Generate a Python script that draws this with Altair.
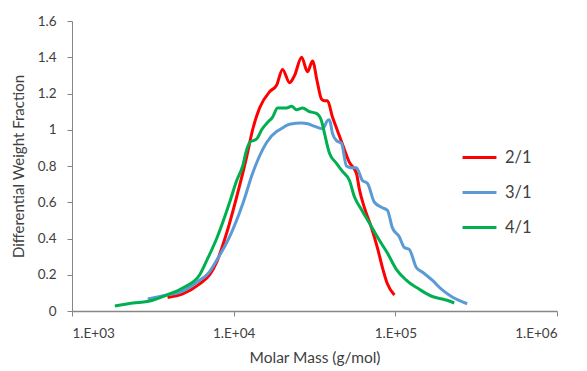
import altair as alt
import pandas as pd

# 2/1 series
m_21 = [3900, 4840, 6170, 7110, 7850, 9050, 10440, 12030, 13100, 14460, 16680, 18420,
        20060, 22170, 23820, 26300, 28640, 30750, 32800, 34910, 36460, 38050, 40840,
        43250, 47100, 52020, 57460, 59950, 64370, 71120, 77420, 83180, 89290, 98630]
w_21 = [0.075, 0.095, 0.15, 0.2, 0.27, 0.43, 0.63, 0.85, 1.0, 1.12, 1.21, 1.245,
        1.333, 1.26, 1.30, 1.40, 1.32, 1.38, 1.27, 1.17, 1.16, 1.16, 1.07,
        1.01, 0.92, 0.82, 0.76, 0.67, 0.57, 0.46, 0.35, 0.24, 0.15, 0.088]

# 3/1 series
m_31 = [2944, 3857, 4842, 6166, 7000, 7852, 9446, 11370, 13100, 15100, 15990, 18420,
        19230, 22170, 26300, 28240, 31500, 35500, 38050, 39140, 40840, 43250, 46420,
        49860, 53500, 57460, 62530, 67150, 74200, 83180, 89290, 95810, 105800, 113700,
        121900, 134800, 146800, 169100, 195100, 224800, 278200]
w_31 = [0.066, 0.088, 0.11, 0.17, 0.21, 0.28, 0.41, 0.59, 0.76, 0.89, 0.93, 0.99,
        1.0, 1.03, 1.037, 1.035, 1.02, 1.005, 1.05, 1.055, 0.98, 0.94, 0.925,
        0.80, 0.79, 0.79, 0.72, 0.705, 0.60, 0.57, 0.556, 0.46, 0.41, 0.35,
        0.34, 0.24, 0.215, 0.17, 0.116, 0.077, 0.04]

# 4/1 series
m_41 = [1841, 2381, 3030, 3857, 4842, 6166, 6910, 7852, 9446, 10440, 11370, 12030, 12560,
        13900, 14900, 15990, 17410, 18700, 21250, 22800, 24490, 26670, 29440, 32530,
        34910, 36460, 39140, 43250, 47100, 52020, 55850, 61680, 69120, 79680, 89290,
        101400, 116900, 140600, 169100, 195100, 215500, 231300]
w_41 = [0.028, 0.044, 0.055, 0.088, 0.127, 0.2, 0.29, 0.4, 0.6, 0.72, 0.80, 0.89, 0.93,
        0.95, 1.0, 1.035, 1.07, 1.12, 1.12, 1.13, 1.11, 1.12, 1.10, 1.09,
        1.05, 0.98, 0.87, 0.815, 0.77, 0.72, 0.63, 0.56, 0.485, 0.39, 0.32,
        0.23, 0.17, 0.12, 0.08, 0.066, 0.055, 0.044]

series_names = ["2/1", "3/1", "4/1"]
series_colors = ["#FF0000", "#5B9BD5", "#00B050"]
x_ticks = [1000, 10000, 100000, 1000000]
y_ticks = [0, 0.2, 0.4, 0.6, 0.8, 1.0, 1.2, 1.4, 1.6]

rows = []
for name, ms, ws in zip(series_names, [m_21, m_31, m_41], [w_21, w_31, w_41]):
    for i, (m, w) in enumerate(zip(ms, ws)):
        rows.append({"series": name, "mass": m, "weight": w, "order": i})
df = pd.DataFrame(rows)

FONT = "Lato"
TXT = "#404040"

chart = alt.Chart(df).mark_line(strokeWidth=3, interpolate="monotone").encode(
    x=alt.X("mass:Q",
            scale=alt.Scale(type="log", domain=[1000, 1000000], nice=False),
            axis=alt.Axis(title="Molar Mass (g/mol)", values=x_ticks,
                          labelExpr="'1.E+0' + format(log(datum.value)/log(10), '.0f')",
                          grid=False, domainColor="#868686", domainWidth=1.5,
                          tickColor="#868686", tickSize=5, labelPadding=10,
                          labelFontSize=13.5, labelFont=FONT, labelColor=TXT,
                          titleFont=FONT, titleFontSize=15.5, titleFontWeight="normal",
                          titleColor=TXT, titlePadding=11)),
    y=alt.Y("weight:Q",
            scale=alt.Scale(domain=[0, 1.6], nice=False),
            axis=alt.Axis(title="Differential Weight Fraction", values=y_ticks,
                          format=".1~f", grid=False, domainColor="#868686",
                          tickColor="#868686", tickSize=5, labelPadding=11,
                          labelFontSize=13.5, labelFont=FONT, labelColor=TXT,
                          titleFont=FONT, titleFontSize=15, titleFontWeight="normal",
                          titleColor=TXT, titlePadding=11)),
    color=alt.Color("series:N",
                    scale=alt.Scale(domain=series_names, range=series_colors),
                    legend=alt.Legend(title=None, orient="none", legendX=389, legendY=118,
                                      symbolType="stroke", symbolSize=1150,
                                      symbolStrokeWidth=3, rowPadding=8,
                                      labelFont=FONT, labelFontSize=16.5, labelColor=TXT,
                                      labelOffset=7)),
    order="order:Q",
).properties(
    width=485, height=290,
    padding={"left": 72, "top": 21, "right": 30, "bottom": 60},
    autosize=alt.AutoSizeParams(type="none"),
).configure_view(stroke=None)

chart.save("out.html", embed_options={"renderer": "svg", "actions": False})
